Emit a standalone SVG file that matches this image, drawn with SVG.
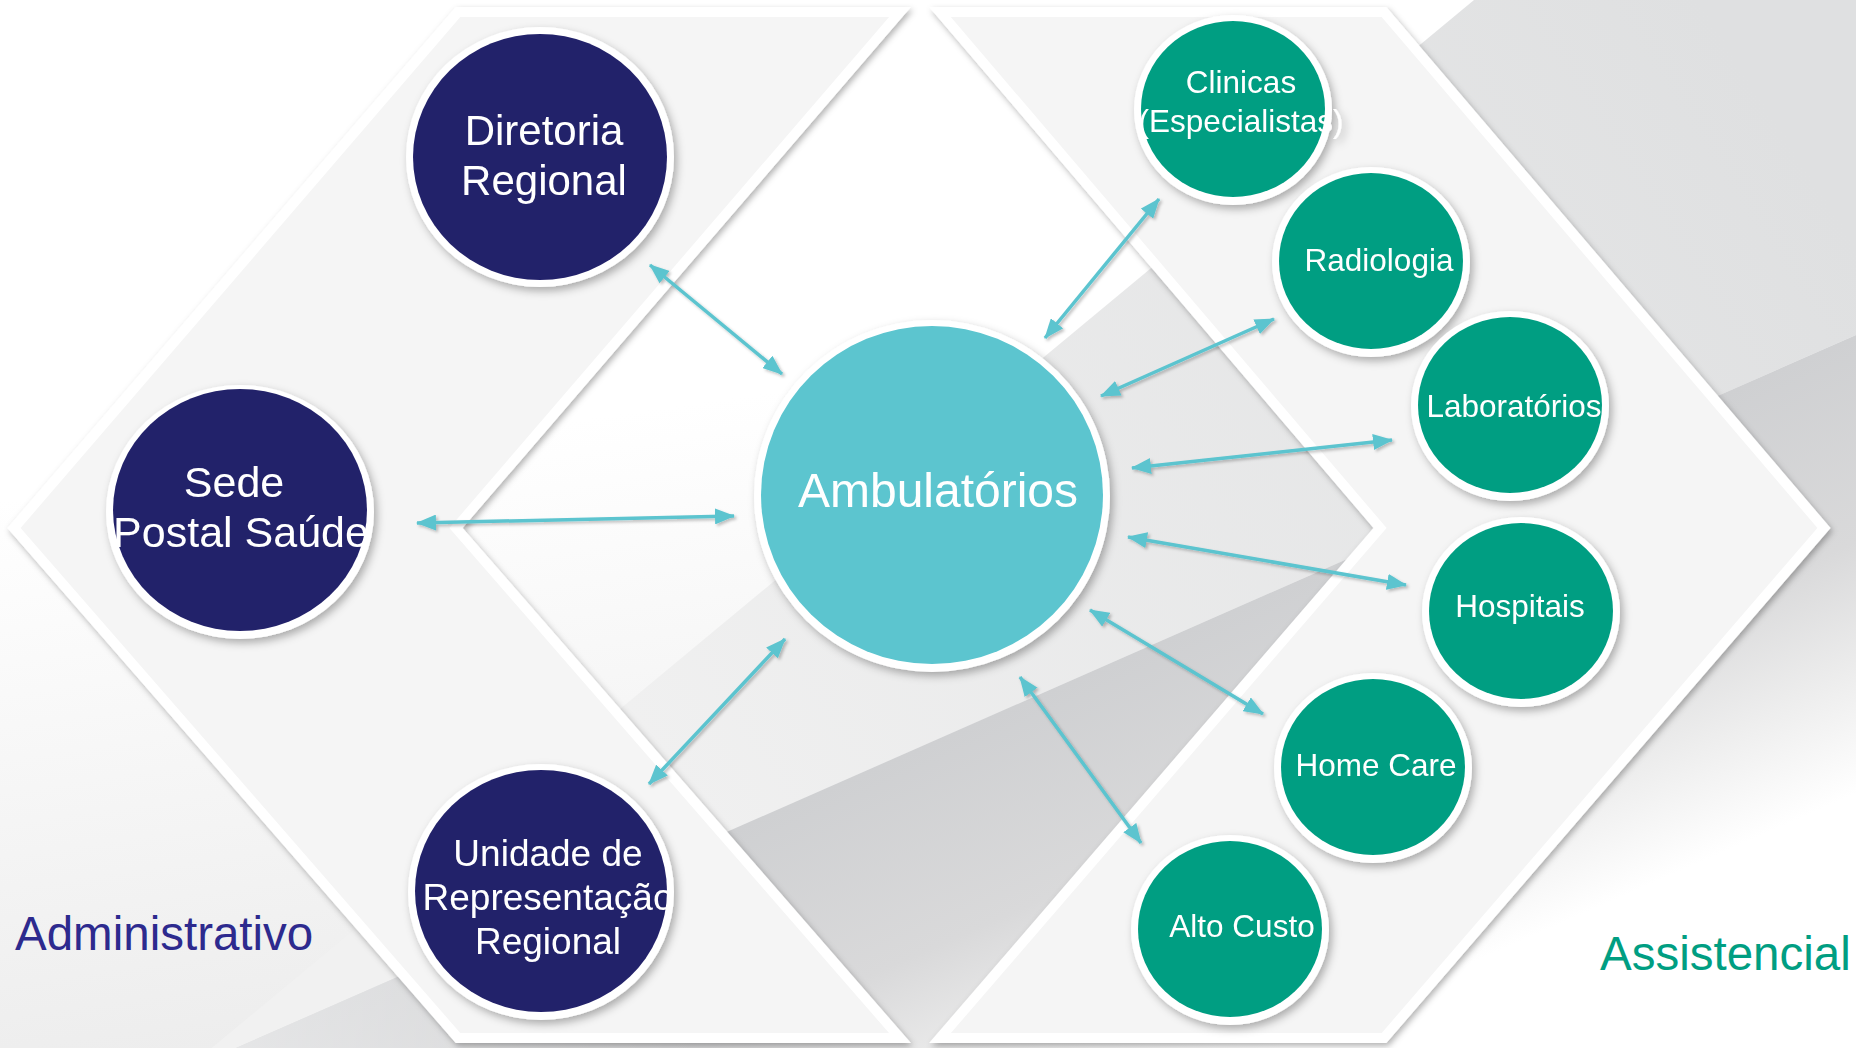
<svg xmlns="http://www.w3.org/2000/svg" width="1856" height="1048" viewBox="0 0 1856 1048">
<defs>
<style>
.lbl{font-family:"Liberation Sans",Arial,sans-serif;fill:#ffffff;text-anchor:middle}
.navy{fill:#23226a}
.green{fill:#009e82}
.ring{fill:#ffffff}
.chev{fill:#f5f5f5;stroke:#ffffff;stroke-width:10;stroke-linejoin:miter}
.conn{stroke:#5bc4cf;stroke-width:3.5;fill:none}
.title{font-family:"Liberation Sans",Arial,sans-serif;font-size:47.5px}
</style>
<linearGradient id="bgBase" x1="0" y1="0" x2="0.25" y2="1">
<stop offset="0" stop-color="#ffffff"/>
<stop offset="0.45" stop-color="#ffffff"/>
<stop offset="1" stop-color="#ececec"/>
</linearGradient>
<linearGradient id="lightBand" gradientUnits="userSpaceOnUse" x1="1750" y1="80" x2="600" y2="820">
<stop offset="0" stop-color="#dfe0e1"/>
<stop offset="1" stop-color="#f1f1f1"/>
</linearGradient>
<linearGradient id="darkBand" gradientUnits="userSpaceOnUse" x1="1000" y1="712" x2="1169" y2="1096">
<stop offset="0" stop-color="#cfd0d2"/>
<stop offset="0.45" stop-color="#d9d9da"/>
<stop offset="0.75" stop-color="#eeeeee"/>
<stop offset="1" stop-color="#ffffff"/>
</linearGradient>
<linearGradient id="leftFade" gradientUnits="userSpaceOnUse" x1="150" y1="0" x2="700" y2="0">
<stop offset="0" stop-color="#ffffff" stop-opacity="0.55"/>
<stop offset="1" stop-color="#ffffff" stop-opacity="0"/>
</linearGradient>
<filter id="shadow" x="-20%" y="-20%" width="140%" height="140%">
<feDropShadow dx="3" dy="4" stdDeviation="4" flood-color="#000000" flood-opacity="0.3"/>
</filter>
<filter id="chevShadow" x="-10%" y="-10%" width="120%" height="120%">
<feDropShadow dx="2" dy="3" stdDeviation="3" flood-color="#000000" flood-opacity="0.3"/>
</filter>
<filter id="arrowShadow" x="-20%" y="-20%" width="140%" height="140%">
<feDropShadow dx="2" dy="2" stdDeviation="1.5" flood-color="#000000" flood-opacity="0.25"/>
</filter>
<marker id="head" viewBox="0 0 20 16" refX="19" refY="8" markerWidth="20" markerHeight="16" markerUnits="userSpaceOnUse" orient="auto-start-reverse">
<path d="M0,0 L20,8 L0,16 z" fill="#5bc4cf"/>
</marker>
</defs>

<g id="background">
<rect x="0" y="0" width="1856" height="1048" fill="url(#bgBase)"/>
<polygon points="1474,0 1856,0 1856,335 184,1071" fill="url(#lightBand)"/>
<polygon points="1856,335 236,1048 1856,1048" fill="url(#darkBand)"/>
<polygon points="1856,335 236,1048 1856,1048" fill="url(#leftFade)"/>
</g>

<g id="chevron-administrativo" filter="url(#chevShadow)">
<polygon class="chev" points="458,12 900,12 456,528 900,1038 458,1038 14,528"/>
</g>
<g id="chevron-assistencial" filter="url(#chevShadow)">
<polygon class="chev" points="940,12 1384,12 1824,528 1384,1038 940,1038 1380,528"/>
</g>

<g id="node-diretoria" filter="url(#shadow)">
<ellipse class="ring" cx="540" cy="157" rx="134" ry="130"/>
<ellipse class="navy" cx="540" cy="157" rx="127" ry="123"/>
<text class="lbl" font-size="42" x="544" y="145">Diretoria</text>
<text class="lbl" font-size="42" x="544" y="195">Regional</text>
</g>

<g id="node-sede" filter="url(#shadow)">
<ellipse class="ring" cx="240" cy="512" rx="134" ry="127"/>
<ellipse class="navy" cx="240" cy="510" rx="127" ry="121"/>
<text class="lbl" font-size="43" x="234" y="497">Sede</text>
<text class="lbl" font-size="43" x="241" y="547">Postal Saúde</text>
</g>

<g id="node-unidade" filter="url(#shadow)">
<ellipse class="ring" cx="541" cy="892" rx="133" ry="128"/>
<ellipse class="navy" cx="541" cy="891" rx="126" ry="121"/>
<text class="lbl" font-size="37" x="548" y="866">Unidade de</text>
<text class="lbl" font-size="37" x="548" y="910">Representação</text>
<text class="lbl" font-size="37" x="548" y="954">Regional</text>
</g>

<g id="node-ambulatorios" filter="url(#shadow)">
<ellipse class="ring" cx="932" cy="496" rx="178" ry="176"/>
<ellipse cx="932" cy="495" rx="171" ry="169" fill="#5bc5cf"/>
<text class="lbl" font-size="48" x="938" y="507">Ambulatórios</text>
</g>

<g id="node-clinicas" filter="url(#shadow)">
<ellipse class="ring" cx="1233" cy="110" rx="99" ry="95"/>
<ellipse class="green" cx="1233" cy="109" rx="92" ry="88"/>
<text class="lbl" font-size="31.5" x="1241" y="93">Clinicas</text>
<text class="lbl" font-size="31.5" x="1241" y="132">(Especialistas)</text>
</g>

<g id="node-radiologia" filter="url(#shadow)">
<ellipse class="ring" cx="1371" cy="262" rx="99" ry="95"/>
<ellipse class="green" cx="1371" cy="261" rx="92" ry="88"/>
<text class="lbl" font-size="31.5" x="1379" y="271">Radiologia</text>
</g>

<g id="node-laboratorios" filter="url(#shadow)">
<ellipse class="ring" cx="1510" cy="406" rx="99" ry="95"/>
<ellipse class="green" cx="1510" cy="405" rx="92" ry="88"/>
<text class="lbl" font-size="31.5" x="1514" y="417">Laboratórios</text>
</g>

<g id="node-hospitais" filter="url(#shadow)">
<ellipse class="ring" cx="1521" cy="612" rx="99" ry="95"/>
<ellipse class="green" cx="1521" cy="611" rx="92" ry="88"/>
<text class="lbl" font-size="31.5" x="1520" y="617">Hospitais</text>
</g>

<g id="node-homecare" filter="url(#shadow)">
<ellipse class="ring" cx="1373" cy="768" rx="99" ry="95"/>
<ellipse class="green" cx="1373" cy="767" rx="92" ry="88"/>
<text class="lbl" font-size="31.5" x="1376" y="776">Home Care</text>
</g>

<g id="node-altocusto" filter="url(#shadow)">
<ellipse class="ring" cx="1230" cy="930" rx="99" ry="95"/>
<ellipse class="green" cx="1230" cy="929" rx="92" ry="88"/>
<text class="lbl" font-size="31.5" x="1242" y="937">Alto Custo</text>
</g>

<g id="connectors" filter="url(#arrowShadow)">
<line class="conn" x1="650" y1="265" x2="782" y2="374" marker-start="url(#head)" marker-end="url(#head)"/>
<line class="conn" x1="417" y1="523" x2="734" y2="516" marker-start="url(#head)" marker-end="url(#head)"/>
<line class="conn" x1="649" y1="784" x2="785" y2="639" marker-start="url(#head)" marker-end="url(#head)"/>
<line class="conn" x1="1045" y1="338" x2="1159" y2="199" marker-start="url(#head)" marker-end="url(#head)"/>
<line class="conn" x1="1101" y1="396" x2="1274" y2="319" marker-start="url(#head)" marker-end="url(#head)"/>
<line class="conn" x1="1132" y1="468" x2="1392" y2="440" marker-start="url(#head)" marker-end="url(#head)"/>
<line class="conn" x1="1128" y1="537" x2="1406" y2="585" marker-start="url(#head)" marker-end="url(#head)"/>
<line class="conn" x1="1090" y1="610" x2="1263" y2="714" marker-start="url(#head)" marker-end="url(#head)"/>
<line class="conn" x1="1020" y1="677" x2="1141" y2="843" marker-start="url(#head)" marker-end="url(#head)"/>
</g>

<g id="labels">
<text class="title" x="15" y="950" fill="#2d2a8e">Administrativo</text>
<text class="title" x="1600" y="970" fill="#009e82">Assistencial</text>
</g>
</svg>
